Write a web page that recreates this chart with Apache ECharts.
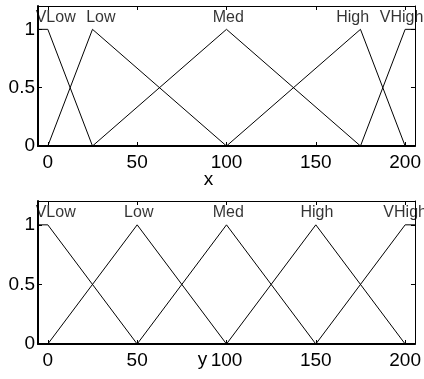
<!DOCTYPE html>
<html>
<head>
<meta charset="utf-8">
<script src="https://cdn.jsdelivr.net/npm/echarts@6/dist/echarts.min.js"></script>
<style>html,body{margin:0;padding:0;background:#fff;}#c{width:424px;height:379px;}</style>
</head>
<body>
<div id="c"></div>
<script>
// ---- data ----
const xTicks = [0, 50, 100, 150, 200];
const yTicks = [0, 0.5, 1];
const mfNames = ['VLow', 'Low', 'Med', 'High', 'VHigh'];

// top variable x: membership breakpoints [x, mu]
const xVLow  = [[-5.5, 1], [0, 1], [25, 0]];
const xLow   = [[0, 0], [25, 1], [100, 0]];
const xMed   = [[25, 0], [100, 1], [175, 0]];
const xHigh  = [[100, 0], [175, 1], [200, 0]];
const xVHigh = [[175, 0], [200, 1], [205.5, 1]];
const xLabelAt = [4.4, 29.7, 101, 170.6, 198];

// bottom variable y
const yVLow  = [[-5.5, 1], [0, 1], [50, 0]];
const yLow   = [[0, 0], [50, 1], [100, 0]];
const yMed   = [[50, 0], [100, 1], [150, 0]];
const yHigh  = [[100, 0], [150, 1], [200, 0]];
const yVHigh = [[150, 0], [200, 1], [205.5, 1]];
const yLabelAt = [4.4, 50.9, 101, 150.6, 200];

const labelLevel = 1.1;
const xRange = [-5.5, 205.5];
const muRange = [0, 1.2];

// ---- chart ----
const FONT = "'Liberation Sans', Arial, Helvetica, sans-serif";
const chart = echarts.init(document.getElementById('c'), null, {renderer: 'canvas'});

function xAxisMain(grid, name, namePad, nameGap) {
  return {
    type: 'value', gridIndex: grid, position: 'bottom',
    min: xRange[0], max: xRange[1],
    name: name, nameLocation: 'middle', nameGap: nameGap, nameMoveOverlap: false,
    nameTextStyle: {color: '#000', fontSize: 19, fontFamily: FONT, padding: namePad},
    axisLine: {show: true, onZero: false, lineStyle: {color: '#000', width: 2}},
    axisTick: {show: true, inside: true, length: 4, customValues: xTicks, lineStyle: {color: '#000', width: 1}},
    axisLabel: {show: true, customValues: xTicks, margin: 7, color: '#000', fontSize: 19, fontFamily: FONT},
    splitLine: {show: false}
  };
}
function xAxisTop(grid) {
  return {
    type: 'value', gridIndex: grid, position: 'top',
    min: xRange[0], max: xRange[1],
    axisLine: {show: true, onZero: false, lineStyle: {color: '#000', width: 1}},
    axisTick: {show: true, inside: true, length: 4, customValues: xTicks, lineStyle: {color: '#000', width: 1}},
    axisLabel: {show: false},
    splitLine: {show: false}
  };
}
function yAxisMain(grid) {
  return {
    type: 'value', gridIndex: grid, position: 'left',
    min: muRange[0], max: muRange[1],
    axisLine: {show: true, onZero: false, lineStyle: {color: '#000', width: 2}},
    axisTick: {show: true, inside: true, length: 4, customValues: yTicks, lineStyle: {color: '#000', width: 1}},
    axisLabel: {show: true, customValues: yTicks, margin: 3, color: '#000', fontSize: 19, fontFamily: FONT},
    splitLine: {show: false}
  };
}
function yAxisRight(grid) {
  return {
    type: 'value', gridIndex: grid, position: 'right',
    min: muRange[0], max: muRange[1],
    axisLine: {show: true, onZero: false, lineStyle: {color: '#000', width: 1}},
    axisTick: {show: true, inside: true, length: 4, customValues: yTicks, lineStyle: {color: '#000', width: 1}},
    axisLabel: {show: false},
    splitLine: {show: false}
  };
}
function mfLine(data, xi, yi) {
  return {
    type: 'line', xAxisIndex: xi, yAxisIndex: yi, data: data,
    symbol: 'none', silent: true, animation: false,
    lineStyle: {color: '#000', width: 1}
  };
}
function mfLabels(pos, xi, yi) {
  return {
    type: 'scatter', xAxisIndex: xi, yAxisIndex: yi, symbolSize: 0, silent: true, animation: false,
    clip: false,
    data: pos.map((x, i) => [x, labelLevel, mfNames[i]]),
    label: {show: true, position: 'inside', formatter: p => p.data[2], color: '#000', fontSize: 16, fontFamily: FONT}
  };
}

chart.setOption({
  animation: false,
  backgroundColor: '#fff',
  grid: [
    {left: 38, right: 9, top: 6, height: 140},
    {left: 38, right: 9, top: 201, height: 143}
  ],
  xAxis: [xAxisMain(0, 'x', [0, 36, 0, 0], 24), xAxisTop(0), xAxisMain(1, 'y', [0, 48, 0, 0], 6), xAxisTop(1)],
  yAxis: [yAxisMain(0), yAxisRight(0), yAxisMain(1), yAxisRight(1)],
  series: [
    mfLine(xVLow, 0, 0), mfLine(xLow, 0, 0), mfLine(xMed, 0, 0), mfLine(xHigh, 0, 0), mfLine(xVHigh, 0, 0),
    mfLabels(xLabelAt, 0, 0),
    mfLine(yVLow, 2, 2), mfLine(yLow, 2, 2), mfLine(yMed, 2, 2), mfLine(yHigh, 2, 2), mfLine(yVHigh, 2, 2),
    mfLabels(yLabelAt, 2, 2)
  ]
});
</script>
</body>
</html>
